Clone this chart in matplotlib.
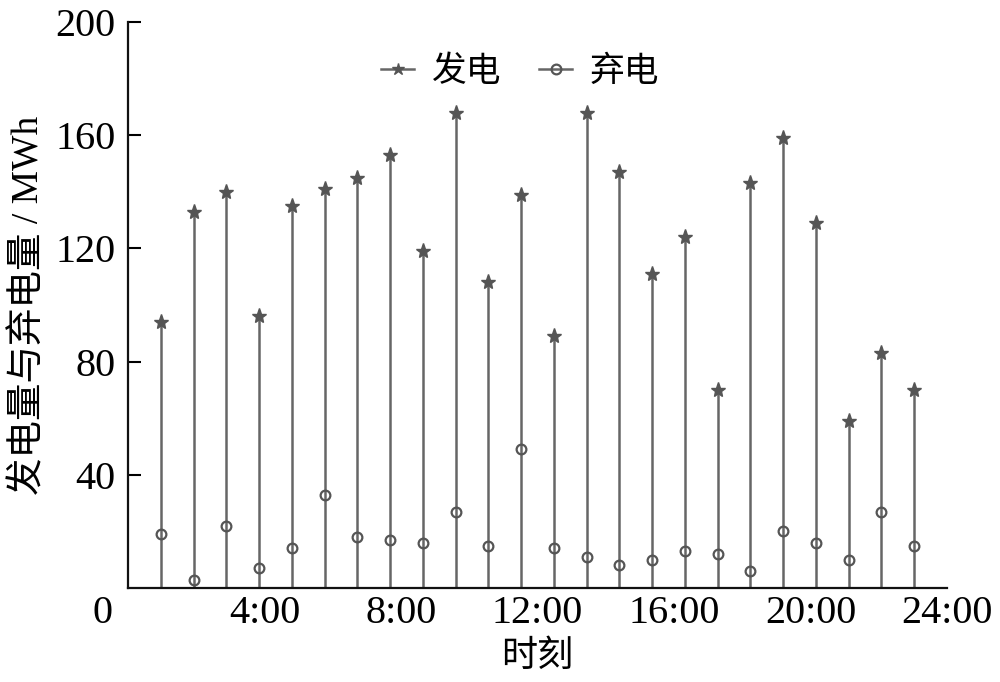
import numpy as np
import matplotlib
matplotlib.use('Agg')
import matplotlib.pyplot as plt
from matplotlib.lines import Line2D
from matplotlib.legend_handler import HandlerLine2D

plt.rcParams['font.family'] = ['Liberation Serif', 'Noto Sans CJK SC']
plt.rcParams['axes.unicode_minus'] = False

# hourly values (24 periods)
periods = np.arange(1, 25)
generation = [94, 133, 140, 96, 135, 141, 145, 153, 119, 168, 108, 139,
              89, 168, 147, 111, 124, 70, 143, 159, 129, 59, 83, 70]
curtailment = [19, 3, 22, 7, 14, 33, 18, 17, 16, 27, 15, 49,
               14, 11, 8, 10, 13, 12, 6, 20, 16, 10, 27, 15]
xtick_labels = ['', '4:00', '8:00', '12:00', '16:00', '20:00', '24:00']
yticks = [40, 80, 120, 160, 200]

stem_color = '#666666'
marker_color = '#555555'


class EndMarkerHandler(HandlerLine2D):
    # legend handle: short line with the marker at its right end
    def get_xdata(self, legend, xdescent, ydescent, width, height, fontsize):
        return [-xdescent, -xdescent + width], [-xdescent + width]


fig = plt.figure(figsize=(10, 6.82), dpi=100)
ax = fig.add_axes([0.128, 0.1378, 0.819, 0.8299])

markerline, stemlines, baseline = ax.stem(periods, generation, basefmt=' ')
plt.setp(stemlines, color=stem_color, linewidth=1.8)
plt.setp(markerline, marker='*', markersize=11, color=marker_color,
         markeredgecolor=marker_color)
ax.plot(periods, curtailment, linestyle='none', marker='o', markersize=7,
        markerfacecolor='none', markeredgecolor=marker_color, markeredgewidth=1.6)

ax.set_xlim(0, 25)
ax.set_ylim(0, 200)
ax.set_xticks(np.linspace(0, 25, 7))
ax.set_xticklabels(xtick_labels)
ax.set_yticks(yticks)
ax.tick_params(axis='x', length=0, labelsize=29, pad=5)
ax.tick_params(axis='y', direction='in', length=9, width=1.5, labelsize=29, pad=9)
for s in ['top', 'right']:
    ax.spines[s].set_visible(False)
for s in ['left', 'bottom']:
    ax.spines[s].set_linewidth(1.6)
    ax.spines[s].set_color('#111111')

# shared origin label
ax.annotate('0', xy=(0, 0), xycoords='axes fraction', xytext=(-18, -5),
            textcoords='offset points', ha='center', va='top', fontsize=29)

ax.set_xlabel('时刻', fontsize=26, family=['Noto Sans CJK SC'], labelpad=4)
ax.set_ylabel('发电量与弃电量 / MWh', fontsize=27, labelpad=6)

handles = [
    Line2D([], [], color=stem_color, linewidth=1.8, marker='*', markersize=9,
           markerfacecolor=marker_color, markeredgecolor=marker_color),
    Line2D([], [], color=stem_color, linewidth=1.8, marker='o', markersize=7,
           markerfacecolor='none', markeredgecolor=marker_color, markeredgewidth=1.6),
]
ax.legend(handles, ['发电', '弃电'], loc='center', bbox_to_anchor=(0.479, 0.912),
          ncol=2, frameon=False, handlelength=0.95, handletextpad=0.5,
          columnspacing=1.1, prop={'family': 'Noto Sans CJK SC', 'size': 25},
          handler_map={Line2D: EndMarkerHandler()})

fig.savefig('out.png', dpi=100)
